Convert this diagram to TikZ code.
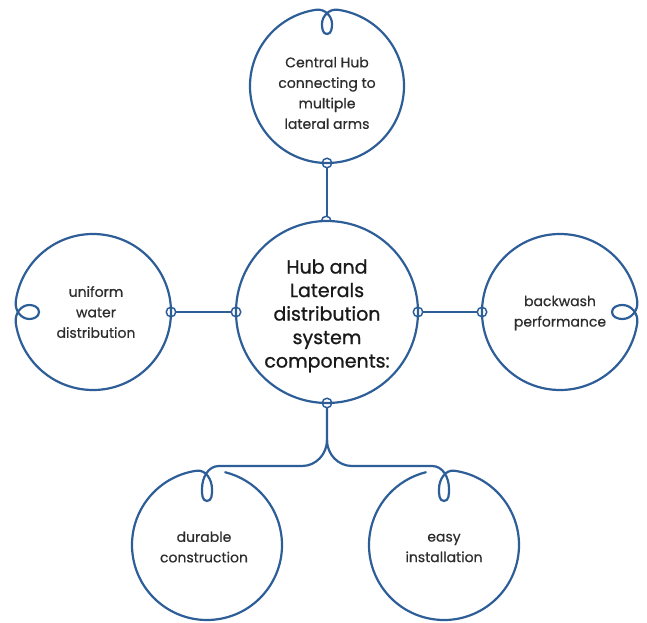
\documentclass[tikz,border=0pt]{standalone}
\usepackage{fontspec}
\setmainfont{Poppins}
\newfontfamily\petalfont{Poppins}[FakeBold=0.6]
\newfontfamily\hubfont{Poppins}[FakeBold=0.9]

\definecolor{hubblue}{RGB}{46,94,152}
\definecolor{hubtext}{RGB}{45,45,45}

\tikzset{
  petal/.style={circle,draw=none,outer sep=0pt},
  petaltext/.style={align=center,text=hubtext,font=\petalfont\fontsize{14}{20.5}\selectfont},
  wire/.style={draw=hubblue,line width=2.2pt,line cap=round,line join=round},
  ring/.style={circle,draw=hubblue,line width=1.5pt,inner sep=0pt,minimum size=9.5pt},
}

% circle with a small curl at angle #3 (center, radius, angle, depth and half width of curl)
\newcommand{\curlcircle}[5]{%
  \begin{scope}[shift={(#1)},rotate=#3-90]
    \draw[wire] (82:#2) arc[start angle=82,end angle=-262,radius=#2]
      to[out=8,in=90] (#5,#2-#4*0.6) to[out=-90,in=0] (0,#2-#4)
      to[out=180,in=-90] (-#5,#2-#4*0.6) to[out=90,in=172] (82:#2);
  \end{scope}}

\begin{document}
\begin{tikzpicture}[x=1pt,y=1pt]
  \useasboundingbox (0,0) rectangle (647,622);

  % Topics
  \node[petal,minimum size=182pt,label={[petaltext,text=black!90,yshift=-4pt,
      font=\hubfont\fontsize{19}{23.5}\selectfont]center:{Hub and\\Laterals\\distribution\\system\\components:}}]
    (hub) at (327,310) {};
  \node[petal,minimum size=154pt,label={[petaltext,yshift=-7pt]center:{Central Hub\\connecting to\\multiple\\lateral arms}}]
    (arms) at (327,536) {};
  \node[petal,minimum size=156pt,label={[petaltext,xshift=3pt]center:{uniform\\water\\distribution}}]
    (uniform) at (93,310) {};
  \node[petal,minimum size=156pt,label={[petaltext,yshift=-1pt]center:{backwash\\performance}}]
    (backwash) at (560,310) {};
  \node[petal,minimum size=150pt,label={[petaltext,xshift=-3pt,yshift=-2pt]center:{durable\\construction}}]
    (durable) at (207,77) {};
  \node[petal,minimum size=150pt,label={[petaltext,yshift=-3pt]center:{easy\\installation}}]
    (easy) at (444,77) {};

  % Outlines
  \draw[wire] (hub) circle (91);
  \curlcircle{arms}{77}{90}{25}{5}
  \curlcircle{uniform}{78}{180}{24}{7}
  \curlcircle{backwash}{78}{0}{26}{7}

  % Joints
  \node[ring] (armsS) at (arms.south) {};
  \node[ring,draw=none] (hubN) at (hub.north) {};
  \node[ring] (hubW) at (hub.west) {};
  \node[ring] (hubE) at (hub.east) {};
  \node[ring] (hubS) at (hub.south) {};
  \node[ring] (uniformE) at (uniform.east) {};
  \node[ring] (backwashW) at (backwash.west) {};
  \draw[draw=hubblue,line width=1.5pt] (hubN.west) arc[start angle=180,end angle=0,radius=4.75pt];
  \coordinate (split) at ([yshift=-37pt]hub.south);

  % Connectors
  \draw[wire] (armsS) -- (hubN.north);
  \draw[wire] (uniformE) -- (hubW);
  \draw[wire] (hubE) -- (backwashW);

  % Bottom branches, running into the curls
  \draw[wire] (hubS) -- (split) to[out=-90,in=0] ++(-25,-26)
    -- ([shift={(12,79)}]durable.center)
    to[out=180,in=90] ([shift={(-5,56)}]durable.center)
    to[out=-90,in=180] ([shift={(0,44)}]durable.center)
    to[out=0,in=-90] ([shift={(5,56)}]durable.center)
    to[out=90,in=8] ([shift={(98:75)}]durable.center)
    arc[start angle=98,end angle=436,radius=75];
  \draw[wire] (split) to[out=-90,in=180] ++(25,-26)
    -- ([shift={(-12,79)}]easy.center)
    to[out=0,in=90] ([shift={(5,56)}]easy.center)
    to[out=-90,in=0] ([shift={(0,44)}]easy.center)
    to[out=180,in=-90] ([shift={(-5,56)}]easy.center)
    to[out=90,in=172] ([shift={(82:75)}]easy.center)
    arc[start angle=82,end angle=-256,radius=75];
\end{tikzpicture}
\end{document}
